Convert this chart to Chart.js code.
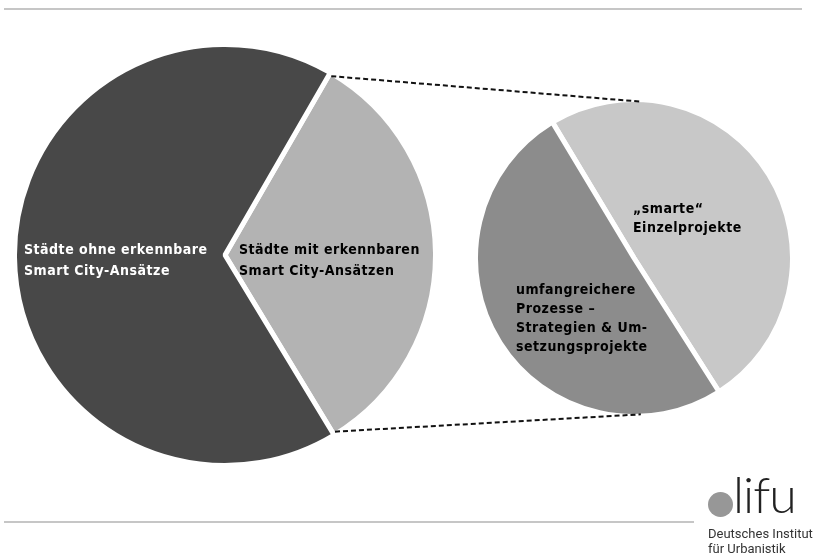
<!DOCTYPE html>
<html lang="de">
<head>
<meta charset="utf-8">
<script src="https://cdn.jsdelivr.net/npm/chart.js@4.4.0/dist/chart.umd.min.js"></script>
<style>
    body { margin: 0; width: 826px; height: 556px; background: #fff; position: relative; overflow: hidden; font-family: "DejaVu Sans Condensed", "DejaVu Sans", sans-serif; }
    canvas { position: absolute; }
    #mainWrap { position: absolute; left: 12px; top: 42px; width: 426px; height: 426px; }
    #detailWrap { position: absolute; left: 473px; top: 97px; width: 322px; height: 322px; }
    #overlay { left: 0; top: 0; pointer-events: none; }
    .rule { position: absolute; left: 4px; height: 2px; background: #c6c6c6; }
    .lbl { position: absolute; font-weight: bold; font-size: 14px; line-height: 21px; letter-spacing: 0.5px; white-space: nowrap; }
    .logo-dot { position: absolute; left: 708px; top: 492px; width: 25px; height: 25px; border-radius: 50%; background: #979797; }
    .logo-word { position: absolute; left: 733px; top: 468px; font-family: Lato, sans-serif; font-weight: 300; font-size: 50px; line-height: 52px; letter-spacing: -1px; color: #222; }
    .logo-text { position: absolute; left: 708px; font-family: Roboto, sans-serif; font-size: 13px; line-height: 16px; color: #333; }
</style>
</head>
<body>
<div class="rule" style="top:8px; width:798px;"></div>
<div class="rule" style="top:521px; width:690px;"></div>

<div id="mainWrap"><canvas id="mainPie"></canvas></div>
<div id="detailWrap"><canvas id="detailPie"></canvas></div>
<canvas id="overlay" width="826" height="556"></canvas>

<div class="lbl" style="left:24px; top:239px; color:#fff;">Städte ohne erkennbare<br>Smart City-Ansätze</div>
<div class="lbl" style="left:239px; top:239px; color:#000;">Städte mit erkennbaren<br>Smart City-Ansätzen</div>
<div class="lbl" style="left:633px; top:199px; color:#000; line-height:19px;">„smarte“<br>Einzelprojekte</div>
<div class="lbl" style="left:516px; top:280px; color:#000; line-height:19px;">umfangreichere<br>Prozesse –<br>Strategien &amp; Um-<br>setzungsprojekte</div>

<div class="logo-dot"></div>
<div class="logo-word">lifu</div>
<div class="logo-text" style="top:526px;">Deutsches Institut</div>
<div class="logo-text" style="top:541px;">für Urbanistik</div>

<script>
// Data (shares in percent)
const mainLabels = ['Städte mit erkennbaren Smart City-Ansätzen', 'Städte ohne erkennbare Smart City-Ansätze'];
const mainValues = [33, 67];
const mainColors = ['#b3b3b3', '#484848'];

const detailLabels = ['„smarte“ Einzelprojekte', 'umfangreichere Prozesse – Strategien & Umsetzungsprojekte'];
const detailValues = [49.6, 50.4];
const detailColors = ['#c8c8c8', '#8c8c8c'];

let mainPieChart, detailPieChart;

function pieOptions(rotation) {
    return {
        responsive: true,
        maintainAspectRatio: false,
        animation: false,
        rotation: rotation,
        layout: { padding: 0 },
        plugins: {
            legend: { display: false },
            tooltip: { enabled: false }
        }
    };
}

// dashed connectors from the highlighted slice to the detail pie
const connectorPlugin = {
    id: 'connector',
    afterDraw(chart) {
        if (!mainPieChart) return;
        const ctx = document.getElementById('overlay').getContext('2d');
        ctx.clearRect(0, 0, 826, 556);

        const mainBox = document.getElementById('mainWrap');
        const detailBox = document.getElementById('detailWrap');
        const slice = mainPieChart.getDatasetMeta(0).data[0].getProps(['x', 'y', 'outerRadius', 'startAngle', 'endAngle'], true);
        const target = chart.getDatasetMeta(0).data[0].getProps(['x', 'y', 'outerRadius'], true);

        const ox1 = mainBox.offsetLeft, oy1 = mainBox.offsetTop;
        const ox2 = detailBox.offsetLeft, oy2 = detailBox.offsetTop;
        const r1 = slice.outerRadius - 4;
        const r2 = target.outerRadius - 2;
        const a = 87.5 * Math.PI / 180;

        ctx.save();
        ctx.strokeStyle = '#111';
        ctx.lineWidth = 2;
        ctx.setLineDash([5, 3]);
        ctx.beginPath();
        ctx.moveTo(ox1 + slice.x + r1 * Math.cos(slice.startAngle) + 3, oy1 + slice.y + r1 * Math.sin(slice.startAngle));
        ctx.lineTo(ox2 + target.x + r2 * Math.cos(-a), oy2 + target.y + r2 * Math.sin(-a));
        ctx.moveTo(ox1 + slice.x + r1 * Math.cos(slice.endAngle) + 3, oy1 + slice.y + r1 * Math.sin(slice.endAngle));
        ctx.lineTo(ox2 + target.x + r2 * Math.cos(a), oy2 + target.y + r2 * Math.sin(a));
        ctx.stroke();
        ctx.restore();
    }
};

function createCharts() {
    mainPieChart = new Chart(document.getElementById('mainPie'), {
        type: 'pie',
        data: {
            labels: mainLabels,
            datasets: [{
                data: mainValues,
                backgroundColor: mainColors,
                borderColor: '#ffffff',
                borderWidth: 5,
                hoverOffset: 0
            }]
        },
        options: pieOptions(30)
    });

    detailPieChart = new Chart(document.getElementById('detailPie'), {
        type: 'pie',
        data: {
            labels: detailLabels,
            datasets: [{
                data: detailValues,
                backgroundColor: detailColors,
                borderColor: '#ffffff',
                borderWidth: 5,
                hoverOffset: 0
            }]
        },
        options: pieOptions(-31),
        plugins: [connectorPlugin]
    });
}

document.addEventListener('DOMContentLoaded', createCharts);
</script>
</body>
</html>
